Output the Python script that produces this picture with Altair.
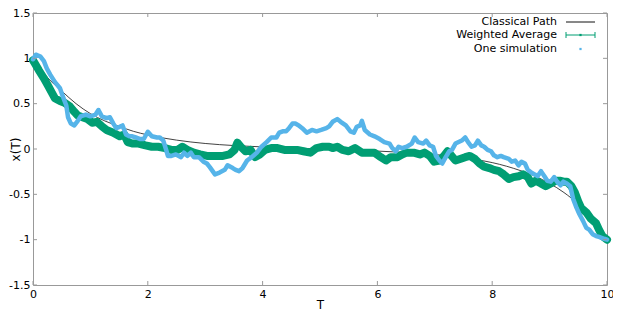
import altair as alt
import pandas as pd

# ---------------- data ----------------
classical_t = [0, 0.25, 0.5, 0.75, 1, 1.25, 1.5, 1.75, 2, 2.5, 3, 3.5, 4, 4.5, 5,
               5.5, 6, 6.5, 7, 7.5, 8, 8.25, 8.5, 8.75, 9, 9.25, 9.5, 9.75, 10]
classical_x = [1.0, 0.79, 0.64, 0.50, 0.39, 0.31, 0.25, 0.195, 0.155, 0.098, 0.061, 0.038,
               0.023, 0.012, 0.0, -0.012, -0.023, -0.038, -0.061, -0.098, -0.15, -0.19,
               -0.24, -0.30, -0.38, -0.48, -0.61, -0.79, -1.0]

avg_t = [0.00, 0.10, 0.19, 0.27, 0.33, 0.38, 0.47, 0.55, 0.64, 0.72, 0.78, 0.86, 0.95,
         1.03, 1.11, 1.20, 1.28, 1.40, 1.51, 1.59, 1.65, 1.73, 1.84, 1.96, 2.07, 2.18,
         2.30, 2.41, 2.52, 2.60, 2.69, 2.80, 2.91, 3.03, 3.14, 3.25, 3.31, 3.42, 3.51,
         3.56, 3.62, 3.70, 3.79, 3.87, 3.95, 4.04, 4.15, 4.26, 4.38, 4.49, 4.60, 4.71,
         4.83, 4.94, 5.05, 5.16, 5.22, 5.30, 5.39, 5.50, 5.61, 5.73, 5.84, 5.95, 6.06,
         6.15, 6.23, 6.35, 6.43, 6.51, 6.63, 6.74, 6.82, 6.91, 6.99, 7.08, 7.16, 7.22,
         7.27, 7.36, 7.44, 7.53, 7.61, 7.70, 7.78, 7.86, 7.95, 8.03, 8.12, 8.20, 8.29,
         8.37, 8.46, 8.54, 8.62, 8.68, 8.76, 8.85, 8.93, 9.02, 9.10, 9.19, 9.24, 9.30,
         9.38, 9.44, 9.50, 9.55, 9.64, 9.72, 9.81, 9.86, 9.92, 10.0]
avg_x = [0.98, 0.87, 0.78, 0.69, 0.62, 0.56, 0.53, 0.51, 0.47, 0.41, 0.37, 0.35, 0.33,
         0.29, 0.30, 0.25, 0.21, 0.18, 0.14, 0.16, 0.076, 0.06, 0.06, 0.04, 0.025, 0.025,
         0.01, -0.01, -0.01, 0.025, -0.01, -0.04, -0.06, -0.076, -0.076, -0.076, -0.076,
         -0.06, -0.01, 0.07, 0.025, -0.025, -0.01, -0.09, -0.06, -0.01, 0.01, 0.01, -0.01,
         -0.01, -0.01, -0.025, -0.04, 0.01, 0.025, 0.025, 0.01, 0.025, -0.01, -0.025, 0.01,
         -0.04, -0.04, -0.04, -0.09, -0.127, -0.09, -0.09, -0.06, -0.04, -0.04, -0.06,
         -0.04, -0.076, -0.14, -0.127, -0.076, -0.025, -0.06, -0.127, -0.11, -0.09, -0.076,
         -0.11, -0.16, -0.195, -0.21, -0.23, -0.245, -0.28, -0.33, -0.31, -0.30, -0.28,
         -0.31, -0.38, -0.35, -0.38, -0.41, -0.38, -0.35, -0.35, -0.36, -0.36, -0.41,
         -0.48, -0.58, -0.65, -0.70, -0.77, -0.82, -0.89, -0.96, -1.0]

sim_t = [0.00, 0.05, 0.13, 0.19, 0.24, 0.30, 0.38, 0.47, 0.52, 0.58, 0.61, 0.66, 0.72,
         0.78, 0.83, 0.92, 1.00, 1.09, 1.14, 1.20, 1.28, 1.34, 1.40, 1.45, 1.51, 1.56,
         1.62, 1.68, 1.73, 1.79, 1.87, 1.93, 2.00, 2.07, 2.16, 2.21, 2.27, 2.32, 2.35,
         2.41, 2.49, 2.58, 2.63, 2.69, 2.75, 2.80, 2.89, 2.97, 3.03, 3.08, 3.17, 3.25,
         3.34, 3.39, 3.48, 3.53, 3.59, 3.65, 3.73, 3.81, 3.90, 3.98, 4.07, 4.15, 4.24,
         4.29, 4.35, 4.41, 4.46, 4.52, 4.57, 4.63, 4.69, 4.77, 4.86, 4.94, 5.02, 5.11,
         5.16, 5.22, 5.30, 5.36, 5.45, 5.53, 5.59, 5.64, 5.70, 5.73, 5.78, 5.87, 5.95,
         6.04, 6.12, 6.21, 6.26, 6.32, 6.37, 6.43, 6.51, 6.60, 6.65, 6.71, 6.80, 6.85,
         6.91, 6.97, 7.02, 7.08, 7.13, 7.19, 7.25, 7.30, 7.36, 7.47, 7.53, 7.58, 7.64,
         7.70, 7.75, 7.81, 7.86, 7.92, 7.98, 8.03, 8.09, 8.15, 8.20, 8.29, 8.34, 8.40,
         8.46, 8.51, 8.57, 8.62, 8.68, 8.74, 8.79, 8.85, 8.91, 8.96, 9.02, 9.08, 9.13,
         9.19, 9.24, 9.30, 9.36, 9.41, 9.47, 9.52, 9.58, 9.64, 9.69, 9.75, 9.81, 9.86,
         9.95, 10.0]
sim_x = [0.99, 1.04, 1.02, 0.97, 0.89, 0.82, 0.74, 0.67, 0.58, 0.48, 0.35, 0.28, 0.26,
         0.31, 0.36, 0.38, 0.36, 0.38, 0.43, 0.36, 0.34, 0.35, 0.28, 0.23, 0.245, 0.26,
         0.16, 0.14, 0.14, 0.127, 0.11, 0.11, 0.19, 0.14, 0.127, 0.127, 0.093, -0.01,
         -0.076, -0.076, -0.06, -0.09, -0.04, -0.076, -0.04, -0.09, -0.09, -0.14, -0.16,
         -0.20, -0.28, -0.26, -0.23, -0.18, -0.21, -0.23, -0.245, -0.21, -0.127, -0.09,
         -0.04, 0.025, 0.076, 0.127, 0.127, 0.18, 0.195, 0.195, 0.23, 0.28, 0.28, 0.26,
         0.23, 0.18, 0.21, 0.195, 0.21, 0.23, 0.25, 0.30, 0.33, 0.30, 0.26, 0.195, 0.18,
         0.245, 0.26, 0.31, 0.21, 0.16, 0.14, 0.11, 0.076, 0.06, 0.01, -0.025, 0.025,
         0.01, 0.025, 0.06, 0.127, 0.076, 0.06, 0.093, 0.04, 0.025, -0.076, -0.127,
         -0.16, -0.09, -0.025, -0.01, 0.06, 0.093, 0.127, 0.076, 0.025, 0.04, 0.093,
         0.04, 0.025, -0.01, -0.025, -0.07, -0.09, -0.076, -0.09, -0.11, -0.14, -0.127,
         -0.18, -0.14, -0.16, -0.23, -0.26, -0.28, -0.30, -0.245, -0.30, -0.35, -0.36,
         -0.31, -0.36, -0.40, -0.36, -0.38, -0.41, -0.55, -0.65, -0.72, -0.79, -0.87,
         -0.89, -0.94, -0.96, -0.97, -0.99, -1.0]

series_names = ["Classical Path", "Weighted Average", "One simulation"]
x_ticks = [0, 2, 4, 6, 8, 10]
y_ticks = [-1.5, -1, -0.5, 0, 0.5, 1, 1.5]

# ---------------- styling ----------------
W, H = 574, 272
FONT = "DejaVu Sans"
FRAME = "#999999"
GREEN = "#009e73"
BLUE = "#56b4e9"

df_c = pd.DataFrame({"T": classical_t, "X": classical_x})
df_a = pd.DataFrame({"T": avg_t, "X": avg_x})
df_s = pd.DataFrame({"T": sim_t, "X": sim_x})
df_xt = pd.DataFrame({"T": x_ticks})
df_yt = pd.DataFrame({"X": y_ticks})
df_leg = pd.DataFrame({"name": series_names})

xscale = alt.Scale(domain=[0, 10], nice=False, zero=False)
yscale = alt.Scale(domain=[-1.5, 1.5], nice=False, zero=False)

x_enc = alt.X("T:Q", scale=xscale,
              axis=alt.Axis(values=x_ticks, title="T", labelPadding=3,
                            titlePadding=0, labelFlush=False))
y_enc = alt.Y("X:Q", scale=yscale,
              axis=alt.Axis(values=y_ticks, title="x(T)", labelExpr="'' + datum.value",
                            labelPadding=3, titleX=-14, titleAngle=270,
                            titleBaseline="alphabetic", labelFlush=False))

classical = alt.Chart(df_c).mark_line(
    color="#111111", strokeWidth=0.8, interpolate="monotone"
).encode(x=x_enc, y=y_enc)

avg = alt.Chart(df_a).mark_line(
    color=GREEN, strokeWidth=8, strokeJoin="round", strokeCap="round"
).encode(x=x_enc, y=y_enc)

sim = alt.Chart(df_s).mark_line(
    color=BLUE, strokeWidth=4.5, strokeJoin="round", strokeCap="round"
).encode(x=x_enc, y=y_enc)

# inward (mirrored) ticks, gnuplot style
TL = 4
tick_b = alt.Chart(df_xt).mark_rule(color=FRAME, strokeWidth=1).encode(
    x=x_enc, y=alt.value(H), y2=alt.value(H - TL))
tick_t = alt.Chart(df_xt).mark_rule(color=FRAME, strokeWidth=1).encode(
    x=x_enc, y=alt.value(0), y2=alt.value(TL))
tick_l = alt.Chart(df_yt).mark_rule(color=FRAME, strokeWidth=1).encode(
    y=y_enc, x=alt.value(0), x2=alt.value(TL))
tick_r = alt.Chart(df_yt).mark_rule(color=FRAME, strokeWidth=1).encode(
    y=y_enc, x=alt.value(W - TL), x2=alt.value(W))

# legend (top right, inside the frame)
TX = W - 50
S0, S1 = W - 41, W - 12
SM = (S0 + S1) / 2
rows = [9, 22, 36]
legend_layers = []
for name, ry in zip(series_names, rows):
    legend_layers.append(
        alt.Chart(df_leg).transform_filter(alt.datum.name == name).mark_text(
            align="right", baseline="middle", font=FONT, fontSize=11, color="#000000"
        ).encode(text="name:N", x=alt.value(TX), y=alt.value(ry))
    )
leg_c = alt.Chart(df_leg).transform_filter(alt.datum.name == series_names[0]).mark_rule(
    color="#111111", strokeWidth=1).encode(x=alt.value(S0), x2=alt.value(S1), y=alt.value(rows[0]))
leg_a = alt.Chart(df_leg).transform_filter(alt.datum.name == series_names[1]).mark_rule(
    color=GREEN, strokeWidth=1).encode(x=alt.value(S0), x2=alt.value(S1), y=alt.value(rows[1]))
leg_a_l = alt.Chart(df_leg).transform_filter(alt.datum.name == series_names[1]).mark_rule(
    color=GREEN, strokeWidth=1).encode(x=alt.value(S0), y=alt.value(rows[1] - 3), y2=alt.value(rows[1] + 3))
leg_a_r = alt.Chart(df_leg).transform_filter(alt.datum.name == series_names[1]).mark_rule(
    color=GREEN, strokeWidth=1).encode(x=alt.value(S1), y=alt.value(rows[1] - 3), y2=alt.value(rows[1] + 3))
leg_a_p = alt.Chart(df_leg).transform_filter(alt.datum.name == series_names[1]).mark_square(
    color=GREEN, size=5, opacity=1).encode(x=alt.value(SM), y=alt.value(rows[1]))
leg_s = alt.Chart(df_leg).transform_filter(alt.datum.name == series_names[2]).mark_square(
    color=BLUE, size=5, opacity=1).encode(x=alt.value(SM), y=alt.value(rows[2]))

chart = alt.layer(
    classical, avg, sim, tick_b, tick_t, tick_l, tick_r,
    *legend_layers, leg_c, leg_a, leg_a_l, leg_a_r, leg_a_p, leg_s
).properties(
    width=W, height=H,
    autosize=alt.AutoSizeParams(type="none"),
    padding={"left": 25, "top": 5, "right": 6, "bottom": 26},
).configure_view(
    stroke=FRAME, strokeWidth=1
).configure_axis(
    domain=False, ticks=False, grid=False,
    labelFont=FONT, labelFontSize=11, labelColor="#000000",
    titleFont=FONT, titleFontSize=12, titleColor="#000000", titleFontWeight="normal",
)

chart.save("out.html", embed_options={"renderer": "svg", "actions": False})
